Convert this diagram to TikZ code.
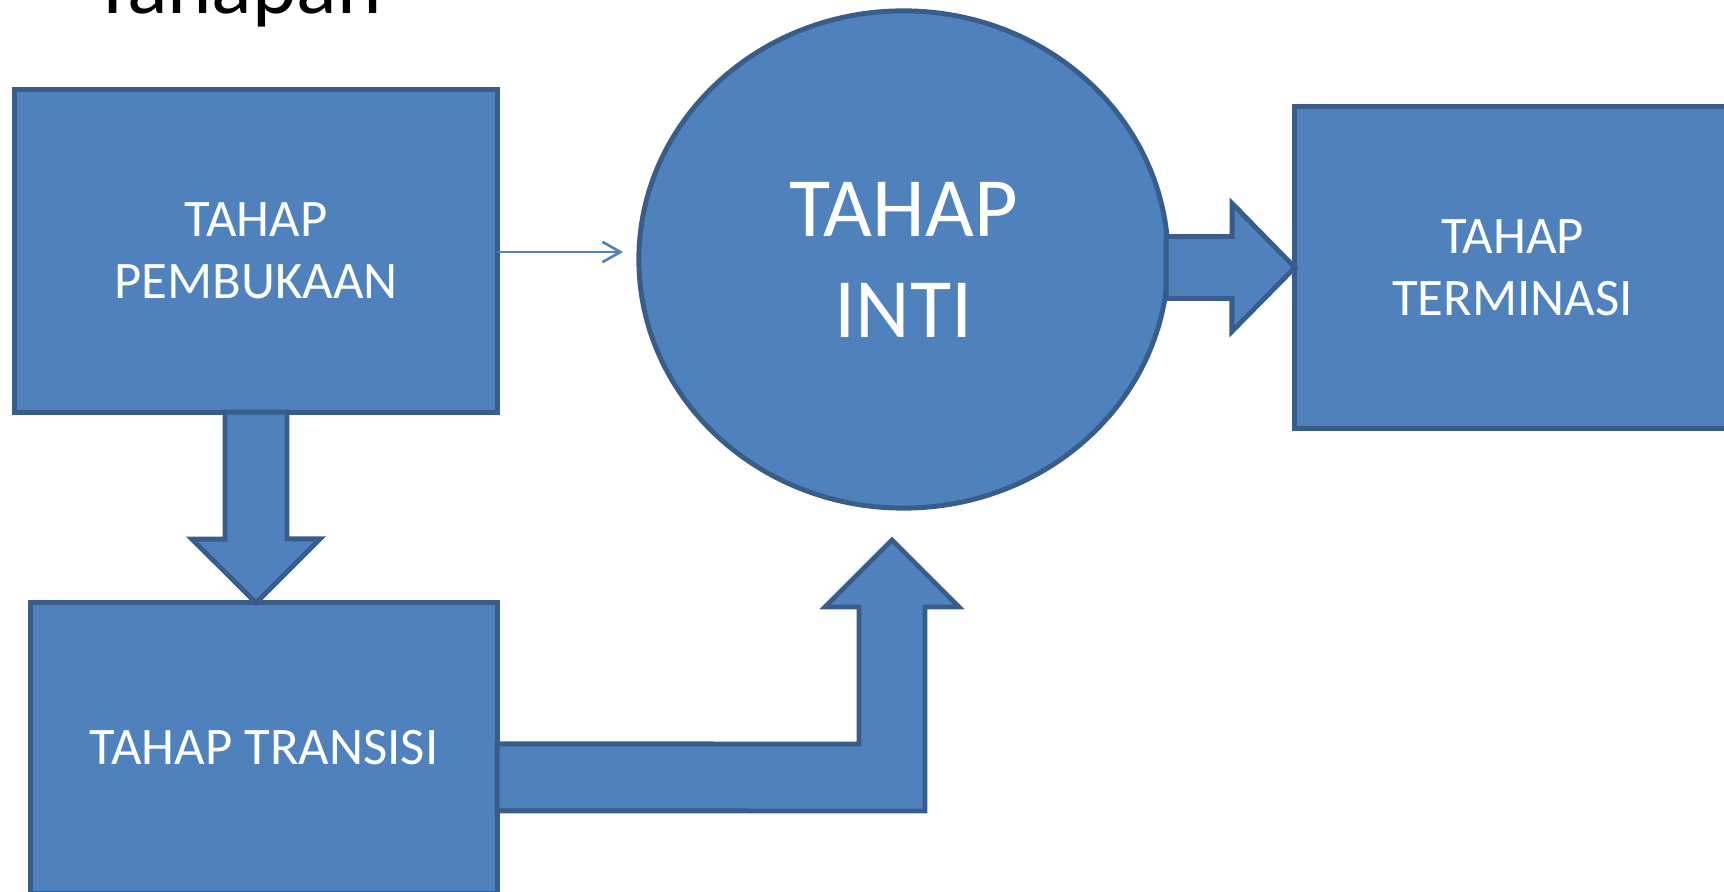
\documentclass[tikz,border=0pt]{standalone}
\usepackage{fontspec}
\setmainfont{Carlito}
\usetikzlibrary{shapes.geometric,arrows.meta,calc}
\definecolor{boxfill}{HTML}{4F81BD}
\definecolor{boxline}{HTML}{385D8A}
\tikzset{
  stagebox/.style={draw=boxline, fill=boxfill, line width=1.4pt, text=white,
    align=center, inner sep=0pt, outer sep=0pt, font=\fontsize{15}{17.6}\selectfont},
  blockarrow/.style={draw=boxline, fill=boxfill, line width=1.4pt, line join=miter},
  thinarrow/.style={draw=boxfill, line width=0.75pt,
    -{Straight Barb[length=5.1pt,width=5.8pt,line width=0.75pt]}}
}
\begin{document}
\begin{tikzpicture}[x=0.01cm,y=-0.01cm]
        \useasboundingbox (0,0) rectangle (1724,892);
        \clip (0,0) rectangle (1724,892);

        % Title, cut off at the top
        \node[anchor=base west, inner sep=0pt, font=\fontsize{24}{28}\selectfont] (judul) at (92,14) {Tahapan};

        % Draw the stages
        \node[stagebox, minimum width=4.82cm, minimum height=3.22cm] (pembukaan) at (256,251) {TAHAP\\PEMBUKAAN};
        \node[stagebox, minimum width=4.66cm, minimum height=2.90cm] (transisi) at (264,748) {TAHAP TRANSISI};
        \node[stagebox, ellipse, minimum width=5.29cm, minimum height=4.97cm,
              font=\fontsize{24}{28.7}\selectfont] (inti) at (903.5,259.5) {TAHAP\\INTI};
        \node[stagebox, minimum width=4.35cm, minimum height=3.21cm] (terminasi) at (1512.5,267.5) {TAHAP\\TERMINASI};

        % Thin arrow from Pembukaan
        \coordinate (pointer) at (623,252);
        \draw[thinarrow] (pembukaan.east |- pointer) -- (pointer);

        % Down arrow: Pembukaan to Transisi
        \draw[blockarrow] ($(pembukaan.south)+(-31,0)$) -- ++(0,127) -- ++(-33,0)
              -- (pembukaan.south |- transisi.north) -- ++(64,-64) -- ++(-33,0)
              -- ($(pembukaan.south)+(31,0)$) -- cycle;

        % Right arrow: Inti to Terminasi
        \draw[blockarrow] ($(inti.east |- terminasi.west)+(-2,-31)$) -- ++(66,0) -- ++(0,-33)
              -- (terminasi.west) -- ++(-63,64) -- ++(0,-33)
              -- ($(inti.east |- terminasi.west)+(-2,31)$) -- cycle;

        % Bent arrow: Transisi up to Inti
        \coordinate (bendtip) at (892,540);
        \draw[blockarrow] ($(transisi.north east)+(0,141)$) -- ($(bendtip)+(-33,204)$)
              -- ($(bendtip)+(-33,67)$) -- ++(-34,0) -- (bendtip) -- ++(67,67) -- ++(-34,0)
              -- ($(bendtip)+(33,271)$) -- ($(transisi.north east)+(0,208)$) -- cycle;
\end{tikzpicture}
\end{document}
